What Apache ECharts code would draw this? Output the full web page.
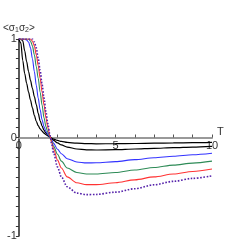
<!DOCTYPE html>
<html><head><meta charset="utf-8">
<script src="https://cdn.jsdelivr.net/npm/echarts@6/dist/echarts.min.js"></script>
<style>html,body{margin:0;padding:0;background:#fff}#c{width:251px;height:245px}</style>
</head><body><div id="c"></div>
<script>
const T = [0,0.1,0.2,0.3,0.4,0.5,0.6,0.7,0.8,0.9,1.0,1.1,1.2,1.3,1.4,1.5,1.6,1.7,1.8,2.0,2.2,2.5,3,3.5,4,5,6,7,8,9,10];
const black1 = [1,0.96,0.78,0.65,0.55,0.46,0.38,0.3,0.225,0.165,0.12,0.088,0.064,0.044,0.028,0.016,0.005,-0.007,-0.017,-0.03,-0.04,-0.05,-0.058,-0.062,-0.064,-0.063,-0.061,-0.058,-0.055,-0.053,-0.05];
const black2 = [1,1,0.98,0.88,0.77,0.67,0.58,0.5,0.415,0.335,0.245,0.17,0.115,0.074,0.045,0.023,0.005,-0.015,-0.03,-0.055,-0.075,-0.097,-0.117,-0.125,-0.127,-0.124,-0.117,-0.11,-0.103,-0.097,-0.09];
const blue = [1,1,1,1,0.99,0.97,0.91,0.8,0.67,0.53,0.4,0.28,0.18,0.11,0.064,0.03,0.005,-0.025,-0.06,-0.12,-0.165,-0.215,-0.248,-0.258,-0.257,-0.245,-0.225,-0.205,-0.19,-0.175,-0.16];
const green = [1,1,1,1,1,1,0.98,0.93,0.84,0.72,0.6,0.46,0.33,0.2,0.11,0.05,0.008,-0.04,-0.09,-0.17,-0.24,-0.31,-0.355,-0.37,-0.37,-0.355,-0.33,-0.305,-0.28,-0.26,-0.24];
const red = [1,1,1,1,1,1,1,0.98,0.93,0.84,0.73,0.6,0.46,0.33,0.2,0.1,0.02,-0.05,-0.12,-0.23,-0.31,-0.4,-0.46,-0.478,-0.478,-0.46,-0.43,-0.4,-0.37,-0.345,-0.32];
const purple = [1,1,1,1,1,1,1,1,0.97,0.91,0.8,0.68,0.54,0.4,0.26,0.14,0.03,-0.07,-0.16,-0.3,-0.4,-0.5,-0.565,-0.58,-0.578,-0.555,-0.52,-0.48,-0.445,-0.415,-0.39];
const xLabels = [0,5,10];
const yLabels = [-1,0,1];

function pairs(v){ return T.map((t,i)=>[t,v[i]]); }
function mk(v,color,type,w){
  return {type:'line',data:pairs(v),smooth:0.3,smoothMonotone:'x',showSymbol:false,silent:true,
    lineStyle:{color:color,width:w,type:type}};
}
const chart = echarts.init(document.getElementById('c'),null,{renderer:'canvas'});
const font = 'Liberation Sans, Arial, sans-serif';
const gridTop = 39, gridBottom = 9, H = 245;
const plotH = H - gridTop - gridBottom;
chart.setOption({
  animation:false,
  grid:{left:15,right:39,top:gridTop,bottom:gridBottom,containLabel:false},
  xAxis:{type:'value',min:0,max:10,interval:1,position:'bottom',offset:-plotH/2,
    name:'T',nameLocation:'end',nameGap:5,
    nameTextStyle:{fontFamily:font,fontSize:11,color:'#333',verticalAlign:'bottom'},
    axisLine:{onZero:false,lineStyle:{color:'#999',width:2}},
    axisTick:{show:true,inside:true,length:3,lineStyle:{color:'#555',width:1}},
    splitLine:{show:false},
    axisLabel:{fontFamily:font,fontSize:11,color:'#333',margin:3,
      formatter:v=>xLabels.some(x=>Math.abs(x-v)<1e-9)?String(Math.round(v)):''}
  },
  yAxis:{type:'value',min:-1,max:1,interval:0.1,
    name:'{a|<σ}{s|1}{a|σ}{s|2}{a|>}',nameLocation:'end',nameGap:5,
    nameTextStyle:{rich:{a:{fontFamily:font,fontSize:10,color:'#333'},s:{fontFamily:font,fontSize:7,color:'#333',verticalAlign:'bottom',padding:[4,0,0,0]}}},
    axisLine:{onZero:false,lineStyle:{color:'#222',width:1.5}},
    axisTick:{show:true,inside:false,length:3,lineStyle:{color:'#333',width:1}},
    splitLine:{show:false},
    axisLabel:{fontFamily:font,fontSize:11,color:'#333',margin:2,
      formatter:v=>yLabels.some(y=>Math.abs(y-v)<1e-9)?String(Math.round(v)):''}
  },
  series:[
    mk(black1,'#000','solid',1.2),
    mk(black2,'#000','solid',1.2),
    mk(blue,'#3333ff','solid',1.1),
    mk(green,'#2e8b57','solid',1.1),
    mk(red,'#ff3333','solid',1.1),
    mk(purple,'#5522aa','dotted',1.6)
  ]
});
</script></body></html>
